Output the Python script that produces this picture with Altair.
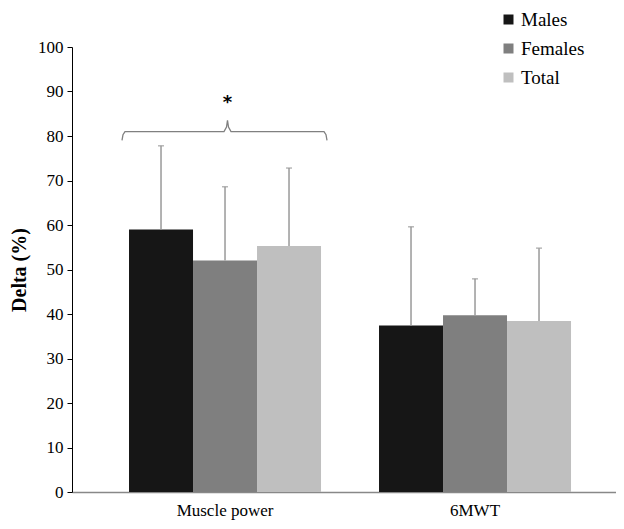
import altair as alt
import pandas as pd

categories = ["Muscle power", "6MWT"]
groups = ["Males", "Females", "Total"]
means = {
    "Muscle power": [59.0, 52.0, 55.3],
    "6MWT": [37.4, 39.7, 38.4],
}
upper = {
    "Muscle power": [77.8, 68.6, 72.8],
    "6MWT": [59.6, 47.9, 54.8],
}
colors = ["#161616", "#7f7f7f", "#bfbfbf"]

# significance bracket over Muscle power (x in px along plot, y in data units)
bracket_x = [50, 51, 53, 152, 154.5, 155.5, 156.5, 159, 252, 254, 255]
bracket_y = [79, 80.3, 81, 81, 82, 83.5, 82, 81, 81, 80.3, 79]
star_label = "*"
star_pos = (155.5, 87.5)

rows = []
for c in categories:
    for i, g in enumerate(groups):
        rows.append({"cat": c, "grp": g, "mean": means[c][i], "up": upper[c][i]})
df = pd.DataFrame(rows)

FONT = "Liberation Serif"
W, H = 544, 445

x_enc = alt.X("cat:N", sort=categories,
              scale=alt.Scale(paddingInner=0.232, paddingOuter=0.204, align=0.559),
              axis=alt.Axis(title=None, labelAngle=0, ticks=False, domainColor="#888888",
                            domainWidth=1.5, labelFont=FONT, labelFontSize=17,
                            labelColor="black", labelPadding=10))
xoff = alt.XOffset("grp:N", sort=groups, scale=alt.Scale(paddingInner=0, paddingOuter=0))
y_scale = alt.Scale(domain=[0, 100], nice=False)

bars = alt.Chart(df).mark_bar().encode(
    x=x_enc,
    xOffset=xoff,
    y=alt.Y("mean:Q", scale=y_scale,
            axis=alt.Axis(title="Delta (%)", values=list(range(0, 101, 10)), grid=False,
                          domainColor="black", tickColor="black", tickSize=5,
                          labelFont=FONT, labelFontSize=17, labelColor="black",
                          labelPadding=4,
                          titleFont=FONT, titleFontSize=20, titleFontWeight="bold",
                          titleColor="black", titleX=-43)),
    color=alt.Color("grp:N", sort=groups,
                    scale=alt.Scale(domain=groups, range=colors),
                    legend=alt.Legend(title=None, orient="none", legendX=427, legendY=-37,
                                      symbolType="square", symbolSize=100,
                                      symbolStrokeWidth=0, labelFont=FONT,
                                      labelFontSize=19, labelColor="black",
                                      rowPadding=9, labelOffset=3)),
)

err = alt.Chart(df).mark_rule(color="#999999", strokeWidth=1.5).encode(
    x=alt.X("cat:N", sort=categories),
    xOffset=xoff,
    y=alt.Y("mean:Q", scale=y_scale),
    y2="up:Q",
)
caps = alt.Chart(df).mark_tick(color="#999999", thickness=1.5, size=6).encode(
    x=alt.X("cat:N", sort=categories),
    xOffset=xoff,
    y=alt.Y("up:Q", scale=y_scale),
)

main = alt.layer(bars, err, caps)

bdf = pd.DataFrame({"bx": bracket_x, "by": bracket_y, "o": list(range(len(bracket_x)))})
bracket = alt.Chart(bdf).mark_line(color="#808080", strokeWidth=1.3).encode(
    x=alt.X("bx:Q", scale=alt.Scale(domain=[0, W], nice=False, zero=False), axis=None),
    y=alt.Y("by:Q", scale=y_scale),
    order="o:Q",
)
sdf = pd.DataFrame({"sx": [star_pos[0]], "sy": [star_pos[1]], "t": [star_label]})
star = alt.Chart(sdf).mark_text(font="DejaVu Sans", fontSize=18, fontWeight="bold",
                                color="black").encode(
    x=alt.X("sx:Q", scale=alt.Scale(domain=[0, W], nice=False, zero=False), axis=None),
    y=alt.Y("sy:Q", scale=y_scale),
    text="t:N",
)
annot = alt.layer(bracket, star)

chart = alt.layer(main, annot).resolve_scale(x="independent").properties(
    width=W, height=H,
    background="white",
    autosize=alt.AutoSizeParams(type="none"),
    padding={"left": 64, "top": 39, "right": 0, "bottom": 29},
).configure_view(stroke=None).configure_axis(grid=False)

chart.save("out.html", embed_options={"renderer": "svg", "actions": False})
